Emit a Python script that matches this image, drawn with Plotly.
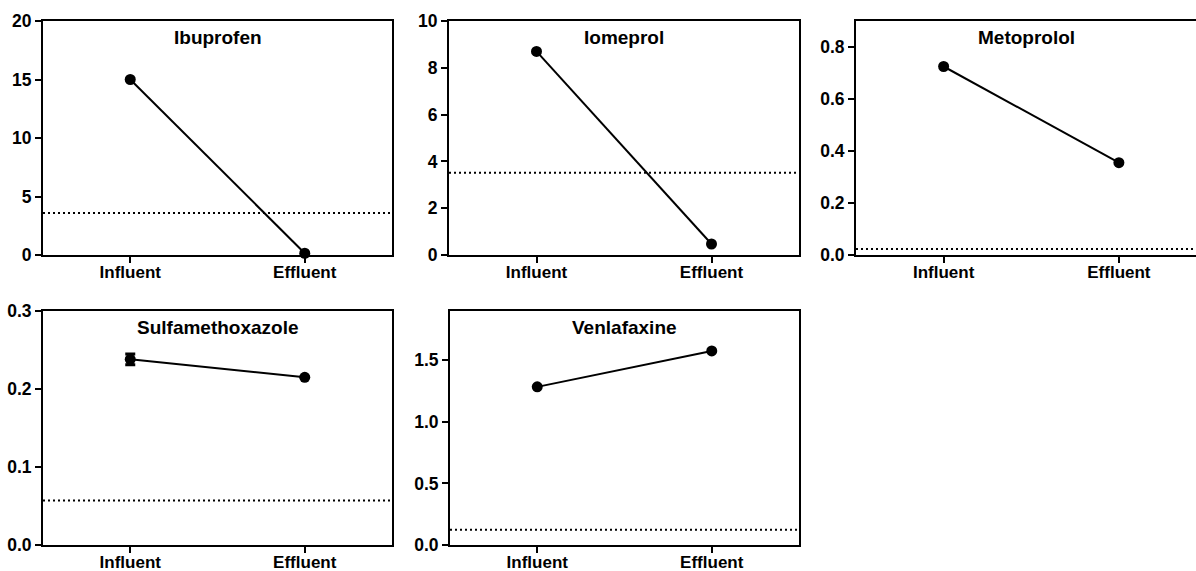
import plotly.graph_objects as go

categories = ["Influent", "Effluent"]

compounds = ["Ibuprofen", "Iomeprol", "Metoprolol", "Sulfamethoxazole", "Venlafaxine"]
ibuprofen = [15.0, 0.15]
iomeprol = [8.7, 0.47]
metoprolol = [0.725, 0.355]
sulfamethoxazole = [0.238, 0.215]
venlafaxine = [1.284, 1.576]
series = [ibuprofen, iomeprol, metoprolol, sulfamethoxazole, venlafaxine]

sulfa_err = [0.007, 0.0]

limits = [3.6, 3.52, 0.023, 0.057, 0.124]  # dotted reference lines

y_ranges = [[0, 20], [0, 10], [0, 0.9], [0, 0.3], [0, 1.9]]
y_ticks = [[0, 5, 10, 15, 20], [0, 2, 4, 6, 8, 10], [0.0, 0.2, 0.4, 0.6, 0.8],
           [0.0, 0.1, 0.2, 0.3], [0.0, 0.5, 1.0, 1.5]]
y_fmt = ["d", "d", ".1f", ".1f", ".1f"]

W, H = 1196, 571
# panel boxes in pixels: (left, right, top, bottom)
boxes = [(43, 392, 21, 255), (449, 799, 21, 255), (856, 1196, 21, 255),
         (43, 392, 311, 545), (450, 799, 311, 545)]
x_ranges = [[-0.5, 1.5], [-0.5, 1.5], [-0.5, 1.44], [-0.5, 1.5], [-0.5, 1.5]]

FONT = "Liberation Sans, Arial, sans-serif"
TICKFONT = dict(family=FONT, size=17.5, color="black", weight="bold")
XTICKFONT = dict(family=FONT, size=17, color="black", weight="bold")
fig = go.Figure()

for i, (name, vals) in enumerate(zip(compounds, series)):
    n = i + 1
    xa = "x" if n == 1 else f"x{n}"
    ya = "y" if n == 1 else f"y{n}"
    err = None
    if name == "Sulfamethoxazole":
        err = dict(type="data", array=sulfa_err, visible=True, color="black",
                   thickness=3, width=5)
    fig.add_trace(go.Scatter(
        x=categories, y=vals, mode="lines+markers", xaxis=xa, yaxis=ya,
        line=dict(color="black", width=2),
        marker=dict(color="black", size=11, symbol="circle"),
        error_y=err, showlegend=False, cliponaxis=False))
    # dotted limit line across the panel
    fig.add_trace(go.Scatter(
        x=[x_ranges[i][0], x_ranges[i][1]], y=[limits[i], limits[i]], mode="lines",
        xaxis=xa, yaxis=ya, line=dict(color="black", width=2, dash="2px,3px"),
        showlegend=False, hoverinfo="skip"))
    l, r, t, b = boxes[i]
    dom_x = [l / W, min(r / W, 1.0)]
    dom_y = [1 - b / H, 1 - t / H]
    xkey = "xaxis" if n == 1 else f"xaxis{n}"
    ykey = "yaxis" if n == 1 else f"yaxis{n}"
    fig.update_layout(**{
        xkey: dict(domain=dom_x, anchor=ya, range=x_ranges[i], type="linear",
                   tickvals=[0, 1], ticktext=categories,
                   showline=True, linecolor="black", linewidth=2, mirror=True,
                   ticks="outside", ticklen=6, tickwidth=2, tickcolor="black",
                   ticklabelstandoff=-5, automargin=False,
                   showgrid=False, zeroline=False, tickfont=XTICKFONT),
        ykey: dict(domain=dom_y, anchor=xa, range=y_ranges[i],
                   tickvals=y_ticks[i], tickformat=y_fmt[i],
                   showline=True, linecolor="black", linewidth=2,
                   mirror=(n != 3), automargin=False,
                   ticks="outside", ticklen=6, tickwidth=2, tickcolor="black",
                   showgrid=False, zeroline=False, tickfont=TICKFONT),
    })
    fig.add_annotation(text=name, xref=f"{xa} domain", yref=f"{ya} domain",
                       x=0.5, y=1, yshift=-4, xanchor="center", yanchor="top",
                       showarrow=False,
                       font=dict(family=FONT, size=19, color="black", weight="bold"))

# map categorical data to index positions
for tr in fig.data:
    if tr.x is not None and isinstance(tr.x[0], str):
        tr.x = [categories.index(c) for c in tr.x]

# put limit lines below data markers
fig.data = tuple([t for t in fig.data if t.mode == "lines"] +
                 [t for t in fig.data if t.mode != "lines"])

fig.update_layout(width=W, height=H,
                  margin=dict(l=0, r=0, t=0, b=0, pad=0, autoexpand=False),
                  plot_bgcolor="white", paper_bgcolor="white",
                  font=dict(family=FONT, color="black"))

fig.write_html("out.html")
